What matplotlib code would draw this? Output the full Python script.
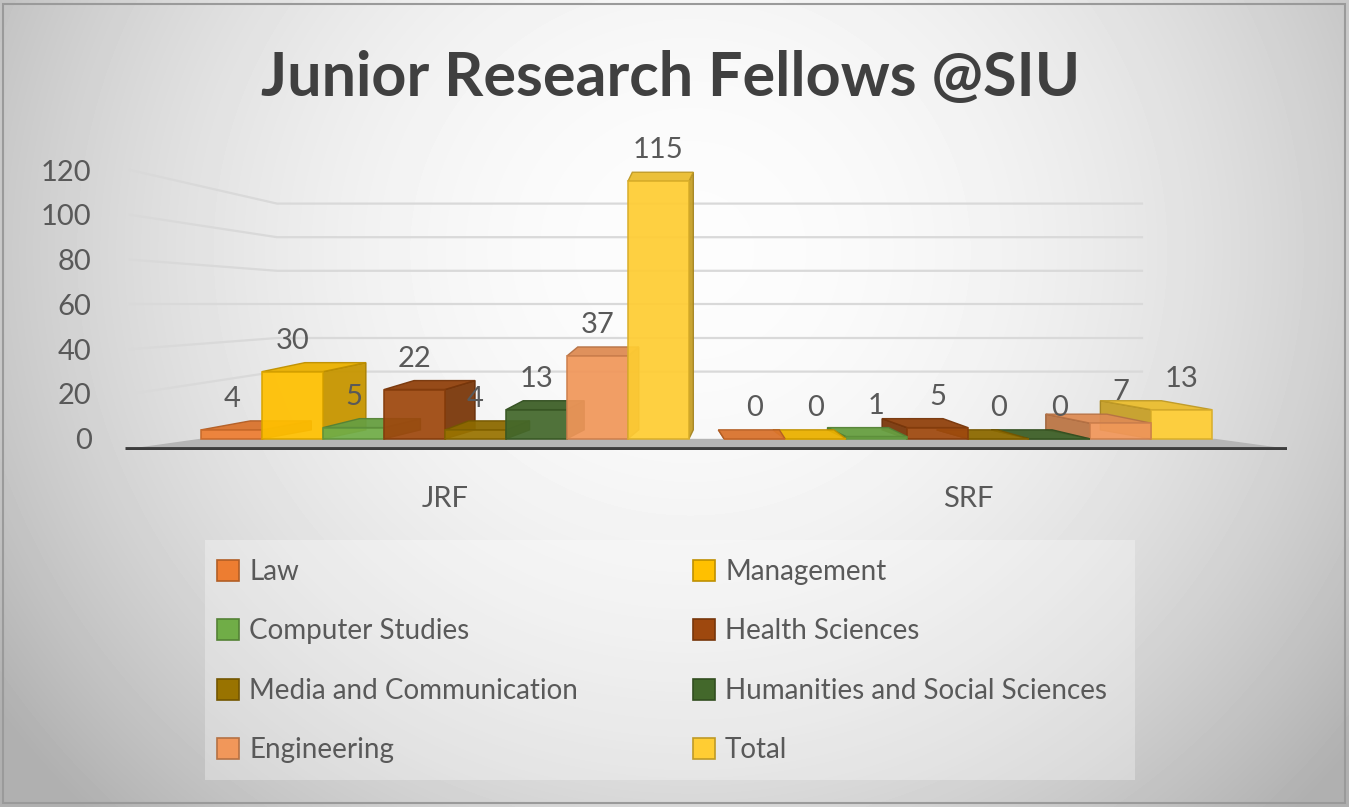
import matplotlib
matplotlib.use("Agg")
import matplotlib.pyplot as plt
import numpy as np
from matplotlib.patches import Polygon, Rectangle, Patch
from matplotlib.colors import to_rgb

# data
categories = ['JRF', 'SRF']
series = ['Law', 'Management', 'Computer Studies', 'Health Sciences',
          'Media and Communication', 'Humanities and Social Sciences',
          'Engineering', 'Total']
jrf_values = [4, 30, 5, 22, 4, 13, 37, 115]
srf_values = [0, 0, 1, 5, 0, 0, 7, 13]
series_colors = ['#ED7D31', '#FFC000', '#70AD47', '#9E480E',
                 '#997300', '#43682B', '#F1975A', '#FFCD33']
yticks = [0, 20, 40, 60, 80, 100, 120]

txt = '#595959'
plt.rcParams['font.family'] = ['Lato', 'DejaVu Sans']

W, H = 1349, 807
fig = plt.figure(figsize=(W / 100, H / 100), dpi=100)

# background gradient (light centre, grey edges)
bg = fig.add_axes([0, 0, 1, 1], zorder=-10)
X, Y = np.meshgrid(np.arange(W), np.arange(H))
r2 = ((X - 690) / 740.0) ** 2 + ((Y - 250) / 700.0) ** 2
val = 0.99 - 0.23 * np.clip(r2, 0, 1.3)
bg.imshow(val, cmap='gray', vmin=0, vmax=1, aspect='auto',
          extent=[0, W, H, 0], interpolation='bilinear')
bg.set_xlim(0, W)
bg.set_ylim(H, 0)
bg.axis('off')
bg.add_patch(Rectangle((3, 4), W - 7, H - 8, fill=False, edgecolor='#9a9a9a', lw=1.5))
# legend panel
bg.add_patch(Rectangle((205, 540), 930, 240, facecolor='white', alpha=0.3, edgecolor='none'))


def px2fig(x0, x1, ytop, ybot):
    return [x0 / W, 1 - ybot / H, (x1 - x0) / W, (ybot - ytop) / H]


ax = fig.add_axes(px2fig(125, 1287, 170, 450))
ax.set_facecolor('none')
for s in ax.spines.values():
    s.set_visible(False)

w = 0.1166
n = len(series)
xmin, xmax = -0.612, 1.610
ax.set_xlim(xmin, xmax)
ax.set_ylim(-5, 120)


def xd(px):
    # pixel x -> data x
    return xmin + (px - 125) / (1287 - 125) * (xmax - xmin)


# gridlines: tick level at the front of the side wall, lower on the back wall
gx0, gx1, gfront = xd(277), xd(1142), xd(130)
for v in yticks[1:]:
    back = v - 0.25 * (v - 60)
    ax.plot([gfront, gx0, gx1], [v, back, back], color='#d9d9d9',
            lw=1.6, zorder=1, clip_on=False)

# floor slab and axis line
ax.add_patch(Polygon([(xd(130), -4.4), (xd(200), 0), (xd(1215), 0), (xd(1287), -4.4)],
                     closed=True, facecolor='#b5b5b5', edgecolor='none', zorder=2))
ax.plot([xmin, xmax], [-4.7, -4.7], color='#3d3d3d', lw=3.5, zorder=2,
        solid_capstyle='butt')

dy = 4.0
vx = xd(700)
k = 0.105


def shade(c, f):
    r, g, b = to_rgb(c)
    return (r * f, g * f, b * f)


handles = []
for gi, (cat, values) in enumerate(zip(categories, [jrf_values, srf_values])):
    for i in range(n):
        xc = gi + (i - (n - 1) / 2) * w
        h = values[i]
        col = series_colors[i]
        z = 3 + (i if gi == 0 else n - 1 - i)
        l, r = xc - w / 2, xc + w / 2
        dx = k * (vx - xc)
        if dx > 0:
            side = [(r, 0), (r, h), (r + dx, h + dy), (r + dx, dy)]
        else:
            side = [(l, 0), (l, h), (l + dx, h + dy), (l + dx, dy)]
        top = [(l, h), (r, h), (r + dx, h + dy), (l + dx, h + dy)]
        ax.add_patch(Polygon(side, closed=True, facecolor=shade(col, 0.78),
                             edgecolor=shade(col, 0.65), lw=1, alpha=0.95, zorder=z))
        ax.add_patch(Polygon(top, closed=True, facecolor=shade(col, 0.92),
                             edgecolor=shade(col, 0.75), lw=1, alpha=0.95, zorder=z))
        ax.bar([xc], [h], width=w, color=col, edgecolor=shade(col, 0.85),
               lw=1.2, alpha=0.93, zorder=z)
        ax.text(xc, h + dy + 4, str(h), ha='center', va='bottom',
                fontsize=21, color=txt, zorder=30)
        if gi == 0:
            handles.append(Patch(facecolor=col, edgecolor=shade(col, 0.75), lw=1.2))

ax.set_xticks([0, 1])
ax.set_xticklabels(categories, fontsize=21, color=txt)
ax.tick_params(axis='x', length=0, pad=26)
ax.set_yticks(yticks)
ax.set_yticklabels([str(t) for t in yticks], fontsize=21, color=txt)
ax.tick_params(axis='y', length=0, pad=24)

fig.text(0.497, 1 - 78 / H, 'Junior Research Fellows @SIU', ha='center', va='center',
         fontsize=44, fontweight='bold', color='#404040')

# legend, two columns filled row-wise
for c, xpx in enumerate([206, 682]):
    idx = list(range(c, n, 2))
    leg = fig.legend([handles[j] for j in idx], [series[j] for j in idx],
                     loc='upper left', bbox_to_anchor=(xpx / W, 1 - 548 / H),
                     frameon=False, fontsize=20, labelcolor=txt,
                     handlelength=0.8, handleheight=0.8, handletextpad=0.35,
                     labelspacing=1.2, borderaxespad=0)

fig.savefig('out.png', dpi=100)
